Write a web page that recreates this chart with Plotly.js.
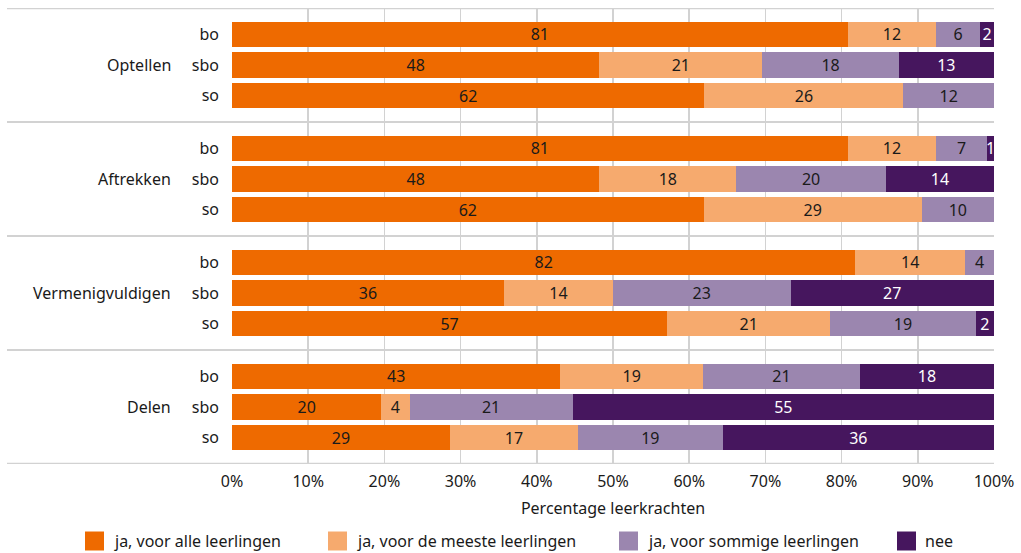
<!DOCTYPE html>
<html>
<head>
<meta charset="utf-8">
<script src="https://cdn.plot.ly/plotly-3.0.1.min.js"></script>
<style>
  html, body { margin: 0; padding: 0; background: #ffffff; }
  #chart { width: 1021px; height: 553px; }
</style>
</head>
<body>
<div id="chart"></div>
<script>
// ---- data ----
const groups = ['Optellen', 'Aftrekken', 'Vermenigvuldigen', 'Delen'];
const subgroups = ['bo', 'sbo', 'so'];
const seriesNames = ['ja, voor alle leerlingen', 'ja, voor de meeste leerlingen', 'ja, voor sommige leerlingen', 'nee'];
// rows: Optellen bo/sbo/so, Aftrekken bo/sbo/so, Vermenigvuldigen bo/sbo/so, Delen bo/sbo/so
const alle    = [80.8, 48.2, 62.0, 80.8, 48.2, 61.9, 81.8, 35.7, 57.1, 43.1, 19.6, 28.6];
const meeste  = [11.6, 21.4, 26.1, 11.6, 18.0, 28.6, 14.4, 14.3, 21.4, 18.7, 3.7, 16.8];
const sommige = [5.8, 17.9, 11.9, 6.7, 19.6, 9.5, 3.8, 23.3, 19.1, 20.6, 21.4, 19.0];
const nee     = [1.8, 12.5, 0, 0.9, 14.2, 0, 0, 26.7, 2.4, 17.6, 55.3, 35.6];
const xTickVals = [0, 10, 20, 30, 40, 50, 60, 70, 80, 90, 100];
const xTickText = ['0%', '10%', '20%', '30%', '40%', '50%', '60%', '70%', '80%', '90%', '100%'];
const xTitle = 'Percentage leerkrachten';

// ---- styles ----
const colors = ['#EE6A00', '#F6AA6E', '#9B86AF', '#46165E'];
const textColors = ['#1a1a1a', '#1a1a1a', '#1a1a1a', '#ffffff'];
const FONT = '"Noto Sans", "Open Sans", sans-serif';
const W = 1021, H = 553;
const L = 232, R = 27, T = 8, B = 89;
const plotW = W - L - R, plotH = H - T - B;
const px2x = p => (p - L) / plotW;
const py2y = p => (H - B - p) / plotH;

// positions of rows on a numeric axis: group g spans [g, g+1]
const rowPos = [];
const rowText = [];
groups.forEach((g, gi) => {
  subgroups.forEach((s, si) => {
    rowPos.push(gi + 0.23 + si * 0.27);
    rowText.push(s);
  });
});

const allSeries = [alle, meeste, sommige, nee];
const traces = allSeries.map((vals, k) => ({
  type: 'bar',
  orientation: 'h',
  name: seriesNames[k],
  x: vals,
  y: rowPos,
  width: 0.22,
  marker: { color: colors[k], line: { width: 0 } },
  text: vals.map(v => v > 0 ? String(Math.round(v)) : ''),
  texttemplate: '%{text}',
  textposition: 'inside',
  insidetextanchor: 'middle',
  textangle: 0,
  constraintext: 'none',
  textfont: { family: FONT, size: 16, color: textColors[k] },
  hoverinfo: 'x+name',
  showlegend: false
}));

const shapes = [];
for (let g = 0; g <= groups.length; g++) {
  shapes.push({
    type: 'line', xref: 'paper', yref: 'y',
    x0: px2x(7), x1: px2x(994), y0: g, y1: g,
    line: { color: '#d2d2d2', width: (g === 0 || g === groups.length) ? 2.5 : 2 }
  });
}

const annotations = groups.map((g, gi) => ({
  text: g, xref: 'paper', yref: 'y', x: px2x(173), y: gi + 0.5,
  xanchor: 'right', yanchor: 'middle', showarrow: false,
  font: { family: FONT, size: 16, color: '#1a1a1a' }
}));

// custom legend
const legendSquares = [85, 328, 619, 897];
const legendTexts = [112, 355, 646, 923];
seriesNames.forEach((n, k) => {
  shapes.push({
    type: 'rect', xref: 'paper', yref: 'paper',
    x0: px2x(legendSquares[k]), x1: px2x(legendSquares[k] + 19),
    y0: py2y(550.5), y1: py2y(531.5),
    fillcolor: colors[k], line: { width: 0 }
  });
  annotations.push({
    text: n, xref: 'paper', yref: 'paper',
    x: px2x(legendTexts[k]), y: py2y(541),
    xanchor: 'left', yanchor: 'middle', showarrow: false,
    font: { family: FONT, size: 16, color: '#1a1a1a' }
  });
});

const layout = {
  width: W, height: H,
  margin: { l: L, r: R, t: T, b: B, pad: 0 },
  paper_bgcolor: '#ffffff', plot_bgcolor: '#ffffff',
  barmode: 'stack',
  font: { family: FONT, size: 16, color: '#1a1a1a' },
  showlegend: false,
  xaxis: {
    range: [0, 100], tickvals: xTickVals, ticktext: xTickText,
    showgrid: true, gridcolor: '#d2d2d2', gridwidth: 1.5,
    zeroline: false, showline: false, ticks: '',
    ticklabelstandoff: 6,
    tickfont: { family: FONT, size: 16, color: '#1a1a1a' },
    title: { text: xTitle, font: { family: FONT, size: 16, color: '#1a1a1a' }, standoff: 11 },
    fixedrange: true
  },
  yaxis: {
    range: [groups.length, 0], tickvals: rowPos, ticktext: rowText,
    showgrid: false, zeroline: false, showline: false, ticks: '',
    ticklabelstandoff: 12,
    tickfont: { family: FONT, size: 16, color: '#1a1a1a' },
    fixedrange: true
  },
  shapes: shapes,
  annotations: annotations
};

Plotly.newPlot('chart', traces, layout, { displayModeBar: false, staticPlot: true });
</script>
</body>
</html>
